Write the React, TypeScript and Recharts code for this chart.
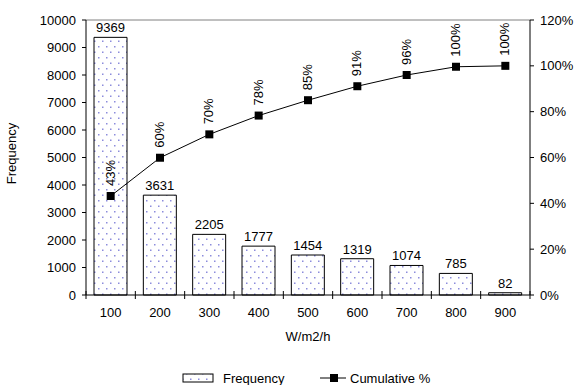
import React from "react";
import {
  ComposedChart,
  Bar,
  Line,
  XAxis,
  YAxis,
  LabelList,
  Legend,
  ReferenceLine,
} from "recharts";

const categories = ["100", "200", "300", "400", "500", "600", "700", "800", "900"];
const frequency = [9369, 3631, 2205, 1777, 1454, 1319, 1074, 785, 82];
const cumulative = [0.432, 0.599, 0.701, 0.783, 0.85, 0.911, 0.96, 0.996, 1.0];
const freqTicks = [0, 1000, 2000, 3000, 4000, 5000, 6000, 7000, 8000, 9000, 10000];
const pctTicks = [0, 0.2, 0.4, 0.6, 0.8, 1.0, 1.2];

const data = categories.map((c, i) => ({
  name: c,
  freq: frequency[i],
  cum: cumulative[i],
}));

const FONT = "'Liberation Sans', Arial, sans-serif";
const AXIS_Y = 295; // bottom of plot area

const pct = (v: number) => `${Math.round(v * 100)}%`;

// square marker like the excel line series
const SquareDot = (props: any) => {
  const { cx, cy } = props;
  if (cx == null || cy == null) return null;
  return <rect x={cx - 4} y={cy - 4} width={8} height={8} fill="#000" />;
};

// vertical % labels above each point
const CumLabel = (props: any) => {
  const { x, y, value } = props;
  const tx = x + 4;
  const ty = y - 10;
  return (
    <text
      x={tx}
      y={ty}
      transform={`rotate(-90, ${tx}, ${ty})`}
      fontSize={13}
      fontFamily={FONT}
      fill="#000"
      textAnchor="start"
    >
      {pct(value)}
    </text>
  );
};

// x ticks sit between categories
const XTick = (props: any) => {
  const { x, payload, index } = props;
  const half = 49.33 / 2;
  return (
    <g>
      <line x1={x - half} x2={x - half} y1={AXIS_Y - 4} y2={AXIS_Y + 4} stroke="#000" />
      {index === categories.length - 1 && (
        <line x1={x + half} x2={x + half} y1={AXIS_Y - 4} y2={AXIS_Y + 4} stroke="#000" />
      )}
      <text x={x} y={AXIS_Y + 22} textAnchor="middle" fontSize={13} fontFamily={FONT} fill="#000">
        {payload.value}
      </text>
    </g>
  );
};

const LegendContent = () => (
  <svg width={579} height={14} style={{ display: "block" }}>
    <rect x={183} y={3} width={30} height={8} fill="url(#dots)" stroke="#000" strokeWidth={1} />
    <text x={223} y={12} fontSize={13} fontFamily={FONT} fill="#000">
      Frequency
    </text>
    <line x1={320} x2={346} y1={7} y2={7} stroke="#000" strokeWidth={1} />
    <rect x={330} y={3} width={8} height={8} fill="#000" />
    <text x={350} y={12} fontSize={13} fontFamily={FONT} fill="#000">
      Cumulative %
    </text>
  </svg>
);

const YLabel = (props: any) => {
  const { viewBox } = props;
  const cx = 16;
  const cy = viewBox.y + viewBox.height / 2 - 4;
  return (
    <text
      x={cx}
      y={cy}
      transform={`rotate(-90, ${cx}, ${cy})`}
      textAnchor="middle"
      fontSize={13}
      fontFamily={FONT}
      fill="#000"
    >
      Frequency
    </text>
  );
};

export default function App() {
  return (
    <div style={{ position: "absolute", left: 0, top: 0, width: 579, height: 385, background: "#fff" }}>
      <ComposedChart
        width={579}
        height={385}
        data={data}
        margin={{ top: 20, right: 0, bottom: 0, left: 0 }}
        barCategoryGap={8}
      >
        <defs>
          <pattern id="dots" width={8} height={11} patternUnits="userSpaceOnUse">
            <rect width={8} height={11} fill="#fff" />
            <rect x={2} y={2} width={1.5} height={1.5} fill="#8c8cdc" />
            <rect x={6} y={7.5} width={1.5} height={1.5} fill="#8c8cdc" />
          </pattern>
        </defs>
        <XAxis
          dataKey="name"
          xAxisId="x"
          height={76}
          tickLine={false}
          axisLine={{ stroke: "#000" }}
          tick={<XTick />}
          interval={0}
          label={{
            value: "W/m2/h",
            position: "insideBottom",
            offset: 30,
            fontSize: 13,
            fontFamily: FONT,
            fill: "#000",
          }}
        />
        <YAxis
          yAxisId="left"
          width={86}
          domain={[0, 10000]}
          ticks={freqTicks}
          interval={0}
          tickSize={4}
          tickMargin={6}
          axisLine={{ stroke: "#000" }}
          tickLine={{ stroke: "#000" }}
          tick={{ fontSize: 13, fontFamily: FONT, fill: "#000" }}
          label={<YLabel />}
        />
        <YAxis
          yAxisId="right"
          orientation="right"
          width={49}
          domain={[0, 1.2]}
          ticks={pctTicks}
          interval={0}
          tickSize={4}
          tickMargin={6}
          tickFormatter={pct}
          axisLine={{ stroke: "#000" }}
          tickLine={{ stroke: "#000" }}
          tick={{ fontSize: 13, fontFamily: FONT, fill: "#000", textAnchor: "start" }}
        />
        <ReferenceLine yAxisId="left" xAxisId="x" y={10000} stroke="#808080" />
        <Legend
          verticalAlign="bottom"
          height={14}
          content={<LegendContent />}
          wrapperStyle={{ left: 0, width: 579 }}
        />
        <Bar
          dataKey="freq"
          name="Frequency"
          xAxisId="x"
          yAxisId="left"
          fill="url(#dots)"
          stroke="#000"
          strokeWidth={1}
          isAnimationActive={false}
        >
          <LabelList
            dataKey="freq"
            position="top"
            offset={5}
            fontSize={13}
            fontFamily={FONT}
            fill="#000"
          />
        </Bar>
        <Line
          dataKey="cum"
          name="Cumulative %"
          xAxisId="x"
          yAxisId="right"
          type="linear"
          stroke="#000"
          strokeWidth={1}
          dot={<SquareDot />}
          activeDot={false}
          isAnimationActive={false}
        >
          <LabelList dataKey="cum" content={<CumLabel />} />
        </Line>
      </ComposedChart>
    </div>
  );
}
